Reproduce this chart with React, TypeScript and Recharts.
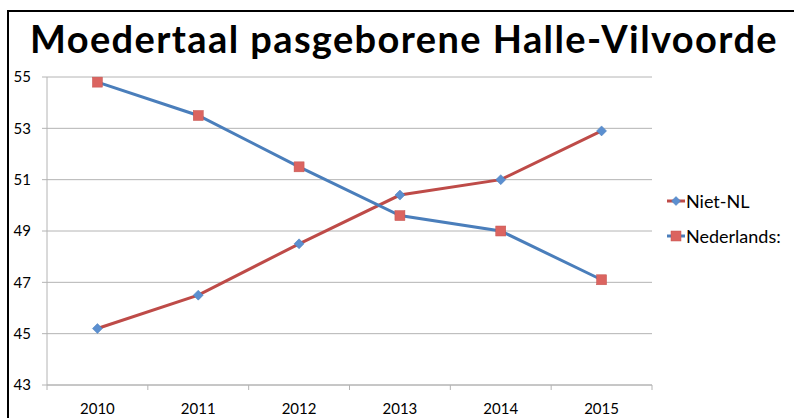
import React from "react"
import { LineChart, Line, XAxis, YAxis, CartesianGrid } from "recharts"

const years = ["2010", "2011", "2012", "2013", "2014", "2015"]
const nietNL = [45.2, 46.5, 48.5, 50.4, 51.0, 52.9]
const nederlands = [54.8, 53.5, 51.5, 49.6, 49.0, 47.1]
const yTicks = [43, 45, 47, 49, 51, 53, 55]
const seriesNames = ["Niet-NL", "Nederlands:"]

const data = years.map((year, i) => ({ year, nietNL: nietNL[i], nederlands: nederlands[i] }))

const BLUE = "#4A7EBB"
const RED = "#BE4B48"
const BLUE_MARK = "#5B8FD0"
const RED_MARK = "#DB6460"
const GRID = "#B4B4B4"
const FONT = "Lato, 'Open Sans', sans-serif"

const HALF_BAND = 605 / 12

function Diamond({ cx, cy, r = 5 }: { cx: number; cy: number; r?: number }) {
  return (
    <path
      d={`M${cx},${cy - r} L${cx + r},${cy} L${cx},${cy + r} L${cx - r},${cy} Z`}
      fill={BLUE_MARK}
      stroke="#4A7EBB"
      strokeWidth={0.5}
    />
  )
}

function Square({ cx, cy, s = 5 }: { cx: number; cy: number; s?: number }) {
  return <rect x={cx - s} y={cy - s} width={s * 2} height={s * 2} fill={RED_MARK} stroke="#C55450" strokeWidth={0.5} />
}

function XTick(props: any) {
  const { x, y, payload, index } = props
  const axisY = y - 18
  return (
    <g>
      <line x1={x - HALF_BAND} y1={axisY} x2={x - HALF_BAND} y2={axisY + 5} stroke={GRID} />
      {index === years.length - 1 && (
        <line x1={x + HALF_BAND} y1={axisY} x2={x + HALF_BAND} y2={axisY + 5} stroke={GRID} />
      )}
      <text x={x} y={y} dy="0.71em" textAnchor="middle" fontSize={15} fill="#000" fontFamily={FONT}>
        {payload.value}
      </text>
    </g>
  )
}

function LegendIcon({ line, marker }: { line: string; marker: "diamond" | "square" }) {
  return (
    <svg width={18} height={12} style={{ display: "block" }}>
      <line x1={0} y1={6} x2={18} y2={6} stroke={line} strokeWidth={3} />
      {marker === "diamond" ? <Diamond cx={9} cy={6} r={4.5} /> : <Square cx={9} cy={6} s={5} />}
    </svg>
  )
}

export default function App() {
  return (
    <div style={{ position: "absolute", left: 0, top: 0, width: 794, height: 418, overflow: "hidden", background: "#fff" }}>
      <div
        style={{
          position: "absolute",
          left: 7,
          top: 10,
          width: 800,
          height: 420,
          border: "2px solid #000",
        }}
      />
      <div
        style={{
          position: "absolute",
          left: 0,
          top: 14,
          width: 808,
          textAlign: "center",
          fontFamily: FONT,
          fontWeight: 700,
          fontSize: 38,
          letterSpacing: 1.4,
          lineHeight: "48px",
          color: "#000",
        }}
      >
        Moedertaal pasgeborene Halle-Vilvoorde
      </div>
      <div style={{ position: "absolute", left: 0, top: 0 }}>
        <LineChart width={794} height={418} data={data} margin={{ top: 77, right: 142, bottom: 3, left: 7 }}>
          <CartesianGrid vertical={false} stroke={GRID} />
          <XAxis
            dataKey="year"
            height={30}
            padding={{ left: HALF_BAND, right: HALF_BAND }}
            stroke={GRID}
            tickLine={false}
            tickSize={5}
            tickMargin={13}
            tick={<XTick />}
            interval={0}
          />
          <YAxis
            width={40}
            domain={[43, 55]}
            ticks={yTicks}
            stroke={GRID}
            tickSize={5}
            tickMargin={11}
            tick={{ fontSize: 15, fill: "#000", fontFamily: FONT }}
          />
          <Line
            dataKey="nietNL"
            name={seriesNames[0]}
            stroke={RED}
            strokeWidth={3}
            isAnimationActive={false}
            dot={(p: any) => <Diamond key={`d${p.index}`} cx={p.cx} cy={p.cy} />}
          />
          <Line
            dataKey="nederlands"
            name={seriesNames[1]}
            stroke={BLUE}
            strokeWidth={3}
            isAnimationActive={false}
            dot={(p: any) => <Square key={`s${p.index}`} cx={p.cx} cy={p.cy} />}
          />
        </LineChart>
      </div>
      <div style={{ position: "absolute", left: 667, top: 189, fontFamily: FONT, fontSize: 18, color: "#000" }}>
        {seriesNames.map((name, i) => (
          <div key={name} style={{ display: "flex", alignItems: "center", height: 24, marginBottom: i === 0 ? 11 : 0 }}>
            <LegendIcon line={i === 0 ? RED : BLUE} marker={i === 0 ? "diamond" : "square"} />
            <span style={{ marginLeft: 1 }}>{name}</span>
          </div>
        ))}
      </div>
    </div>
  )
}
